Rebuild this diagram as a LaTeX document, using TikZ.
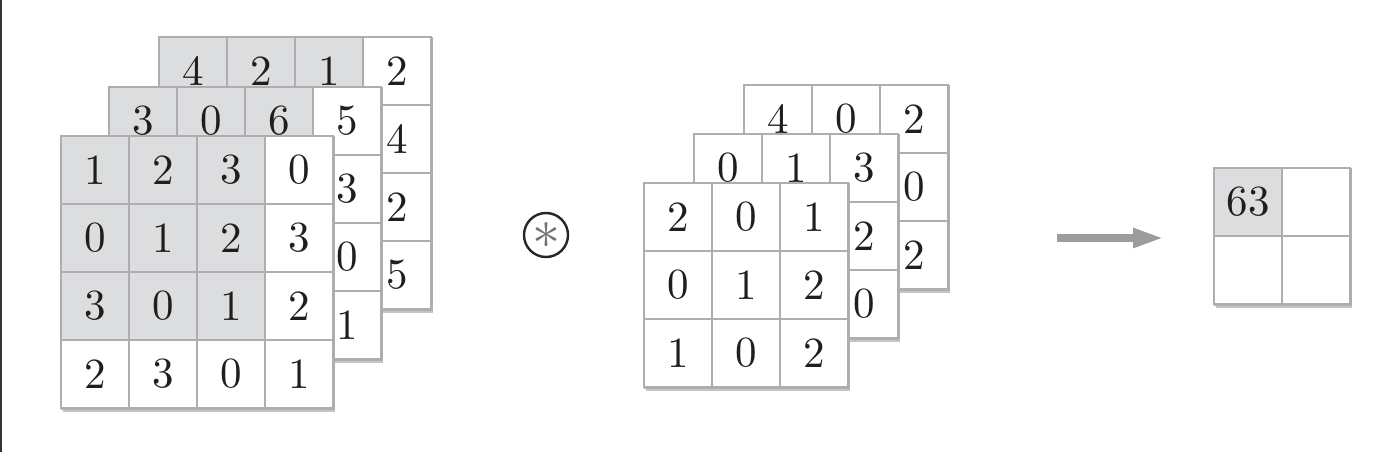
\documentclass[tikz,border=0pt]{standalone}
\usepackage{graphicx}
\usetikzlibrary{shadows,arrows.meta}
\definecolor{gridc}{HTML}{AEAEB0}
\definecolor{cellg}{HTML}{DCDDDF}
\definecolor{arrc}{HTML}{9C9C9E}
\definecolor{inkc}{HTML}{1E1E1E}
\tikzset{
  cellbox/.style={draw=gridc, line width=1.6pt, minimum size=68pt, inner sep=0pt,
    text=inkc, font=\fontsize{10}{12}\selectfont},
  layerbg/.style={draw=gridc, line width=1.6pt, fill=white, inner sep=0pt,
    drop shadow={shadow xshift=0.8pt, shadow yshift=-3pt, opacity=0.45}},
  opcircle/.style={circle, draw=black!85, line width=2.4pt, minimum size=44pt, inner sep=0pt},
  flowarrow/.style={draw=arrc, line width=8pt, -{Triangle[length=31pt,width=18pt]}},
}
% #1 name, #2 left, #3 top, #4 cells per side, #5 shaded block size, #6 rows
\newcommand\drawgrid[6]{%
  \node[layerbg, minimum width={#4*68pt}, minimum height={#4*68pt}, anchor=north west] (#1) at (#2,#3) {};
  \foreach \row [count=\r] in {#6} {
    \foreach \v [count=\c] in \row {
      \pgfmathtruncatemacro\sh{(\r<=#5)&&(\c<=#5)}
      \ifnum\sh=1 \def\cf{cellg}\else\def\cf{white}\fi
      \node[cellbox, fill=\cf] (#1-\r-\c) at ({#2+34+68*(\c-1)}, {#3+34+68*(\r-1)}) {\scalebox{4.3}{\v}};
    }
  }
}
\begin{document}
\begin{tikzpicture}[x=1pt, y=-1pt]
\useasboundingbox (0,0) rectangle (1388,452);
\fill[white] (0,0) rectangle (1388,452);
\draw[black!80, line width=2pt] (1,0) -- (1,452);
% input volume
\drawgrid{inC}{159}{37}{4}{3}{{4,2,1,2},{\relax,\relax,\relax,4},{\relax,\relax,\relax,2},{\relax,\relax,\relax,5}}
\drawgrid{inB}{109}{87}{4}{3}{{3,0,6,5},{\relax,\relax,\relax,3},{\relax,\relax,\relax,0},{\relax,\relax,\relax,1}}
\drawgrid{inA}{61}{136}{4}{3}{{1,2,3,0},{0,1,2,3},{3,0,1,2},{2,3,0,1}}
% operator
\node[opcircle] (op) at (546,235) {};
\node[text=black!55, inner sep=0pt, font=\fontsize{10}{12}\selectfont] (ast) at (op.center) {\scalebox{5.6}{$\ast$}};
% filter volume
\drawgrid{fC}{744}{85}{3}{0}{{4,0,2},{\relax,\relax,0},{\relax,\relax,2}}
\drawgrid{fB}{694}{134}{3}{0}{{0,1,3},{\relax,\relax,2},{\relax,\relax,0}}
\drawgrid{fA}{644}{183}{3}{0}{{2,0,1},{0,1,2},{1,0,2}}
% arrow
\coordinate (a1) at (1057,238);
\coordinate (a2) at (1164,238);
\draw[flowarrow] (a1) -- (a2);
% output
\drawgrid{out}{1214}{168}{2}{1}{{63,\relax},{\relax,\relax}}
\end{tikzpicture}
\end{document}
